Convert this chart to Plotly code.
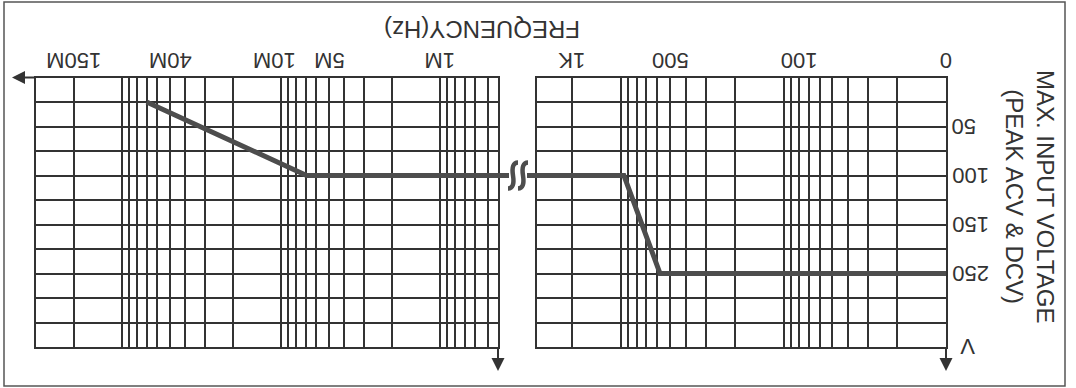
import numpy as np
import plotly.graph_objects as go

W, H = 1076, 388

# ---------------- data ----------------
# low-frequency panel (Hz)
freq_low = [10, 575, 960, 3400]
volt_low = [250, 250, 100, 100]
# high-frequency panel (Hz)
freq_high = [4.0e5, 6.9e6, 7.0e7]
volt_high = [100, 100, 25]

# voltage scale of the drawing (non-linear): value -> grid row
volt_scale_vals = [0, 50, 100, 150, 250]
volt_scale_rows = [0, 2, 4, 6, 8]
y_tick_vals = [50, 100, 150, 250]
y_tick_text = ["50", "100", "150", "250"]
y_unit = "V"

# frequency tick labels, at the places where the drawing puts them
low_tick_text = ["0", "100", "500", "1K"]
low_tick_vals = [10, 80, 500, 2000]
high_tick_text = ["1M", "5M", "10M", "40M", "150M"]
high_tick_vals = [1e6, 5e6, 1.1e7, 5e7, 2e8]

# log grid lines of each panel
low_grid = [k * 10 ** e for e in range(1, 4) for k in range(1, 10) if k * 10 ** e <= 2000]
high_grid = [k * 10 ** e for e in range(5, 9) for k in range(1, 10) if 5e5 <= k * 10 ** e <= 2e8]
rows = list(range(0, 12))

x_title = "FREQUENCY(Hz)"
y_title = "MAX. INPUT VOLTAGE<br>(PEAK ACV & DCV)"

# ---------------- layout helpers ----------------
def pxx(p):
    return p / W

def pxy(p):
    return 1 - p / H

def vrow(v):
    return np.interp(v, volt_scale_vals, volt_scale_rows)

GRID_TOP, GRID_BOT = 77.5, 347.0
L_LEFT, L_RIGHT = 36.0, 498.0
R_LEFT, R_RIGHT = 537.0, 946.0

INK = "#333333"
CURVE = "#4d4d4d"
FONT = "Liberation Sans, Arial, Helvetica, sans-serif"

def row_px(r):
    return GRID_TOP + r * (GRID_BOT - GRID_TOP) / 11.0

fig = go.Figure()
fig.add_trace(go.Scatter(x=freq_high, y=vrow(volt_high), mode="lines",
                         line=dict(color=CURVE, width=5), xaxis="x", yaxis="y",
                         showlegend=False, hoverinfo="skip"))
fig.add_trace(go.Scatter(x=freq_low, y=vrow(volt_low), mode="lines",
                         line=dict(color=CURVE, width=5), xaxis="x2", yaxis="y2",
                         showlegend=False, hoverinfo="skip"))

axis_common = dict(showgrid=True, gridcolor=INK, gridwidth=1.8, zeroline=False,
                   showline=True, linecolor=INK, linewidth=2, mirror=True,
                   ticks="", showticklabels=False)

# left panel: 159 px per decade, 1 MHz at x=440
l_hi = 6 + (440 - L_LEFT) / 159.0
l_lo = 6 - (L_RIGHT - 440) / 159.0
# right panel: 162.5 px per decade, 10 Hz at right edge
r_hi = 1 + (R_RIGHT - R_LEFT) / 162.5

fig.update_layout(
    width=W, height=H, margin=dict(l=0, r=0, t=0, b=0),
    paper_bgcolor="white", plot_bgcolor="white",
    xaxis=dict(type="log", domain=[pxx(L_LEFT), pxx(L_RIGHT)], range=[l_hi, l_lo],
               tickmode="array", tickvals=high_grid, anchor="y", **axis_common),
    xaxis2=dict(type="log", domain=[pxx(R_LEFT), pxx(R_RIGHT)], range=[r_hi, 1.0],
                tickmode="array", tickvals=low_grid, anchor="y2", **axis_common),
    yaxis=dict(domain=[pxy(GRID_BOT), pxy(GRID_TOP)], range=[11, 0], anchor="x",
               tickmode="array", tickvals=rows, **axis_common),
    yaxis2=dict(domain=[pxy(GRID_BOT), pxy(GRID_TOP)], range=[11, 0], anchor="x2",
                matches="y", tickmode="array", tickvals=rows, **axis_common),
)

annotations = []
tick_font = dict(family=FONT, size=22, color=INK)
LABEL_Y = pxy(61)
for v, t in zip(high_tick_vals, high_tick_text):
    annotations.append(dict(x=np.log10(v), xref="x", y=LABEL_Y, yref="paper", text=t,
                            textangle=180, showarrow=False, xanchor="center",
                            yanchor="middle", font=tick_font))
for v, t in zip(low_tick_vals, low_tick_text):
    annotations.append(dict(x=np.log10(v), xref="x2", y=LABEL_Y, yref="paper", text=t,
                            textangle=180, showarrow=False, xanchor="center",
                            yanchor="middle", font=tick_font))
for v, t in zip(y_tick_vals, y_tick_text):
    annotations.append(dict(x=pxx(950), xref="paper", y=vrow(v), yref="y2", text=t,
                            textangle=180, showarrow=False, xanchor="left",
                            yanchor="middle", font=tick_font))
annotations.append(dict(x=pxx(968), xref="paper", y=11, yref="y2", text=y_unit,
                        textangle=180, showarrow=False, xanchor="center",
                        yanchor="middle", font=tick_font))
# titles
annotations.append(dict(x=pxx(482), xref="paper", y=pxy(29), yref="paper", text=x_title,
                        textangle=180, showarrow=False, xanchor="center", yanchor="middle",
                        font=dict(family=FONT, size=24, color=INK)))
annotations.append(dict(x=pxx(1030), xref="paper", y=pxy(196), yref="paper", text=y_title,
                        textangle=90, showarrow=False, xanchor="center", yanchor="middle",
                        font=dict(family=FONT, size=24, color=INK)))
# axis arrows
arrow = dict(text="", showarrow=True, arrowhead=2, arrowsize=1.3, arrowwidth=2,
             arrowcolor=INK, standoff=0, startstandoff=0)
annotations.append(dict(x=pxx(12), y=pxy(GRID_TOP), xref="paper", yref="paper",
                        ax=L_LEFT - 12, ay=0, **arrow))
annotations.append(dict(x=pxx(L_RIGHT), y=pxy(371), xref="paper", yref="paper",
                        ax=0, ay=-(371 - GRID_BOT), **arrow))
annotations.append(dict(x=pxx(R_RIGHT), y=pxy(371), xref="paper", yref="paper",
                        ax=0, ay=-(371 - GRID_BOT), **arrow))
fig.update_layout(annotations=annotations)

# break between the two panels
shapes = []
cy_row = vrow(volt_low[-1])
shapes.append(dict(type="line", xref="paper", yref="y", x0=pxx(L_RIGHT), x1=pxx(509),
                   y0=cy_row, y1=cy_row, line=dict(color=CURVE, width=5)))
shapes.append(dict(type="line", xref="paper", yref="y", x0=pxx(527), x1=pxx(R_LEFT),
                   y0=cy_row, y1=cy_row, line=dict(color=CURVE, width=5)))
cy = row_px(cy_row)
for cx in (513.0, 523.0):
    pts = [(cx + 5, cy - 13), (cx - 2, cy - 13), (cx, cy), (cx + 2, cy + 13), (cx - 5, cy + 13)]
    p = [(pxx(a), pxy(b)) for a, b in pts]
    path = "M {:.5f},{:.5f} Q {:.5f},{:.5f} {:.5f},{:.5f} Q {:.5f},{:.5f} {:.5f},{:.5f}".format(
        *p[0], *p[1], *p[2], *p[3], *p[4])
    shapes.append(dict(type="path", xref="paper", yref="paper", path=path,
                       line=dict(color=CURVE, width=4.5)))
# outer frame
shapes.append(dict(type="rect", xref="paper", yref="paper", x0=pxx(4), x1=pxx(1065),
                   y0=pxy(386), y1=pxy(2), line=dict(color="#555555", width=1.5)))
fig.update_layout(shapes=shapes)

fig.write_html("out.html", config={"displayModeBar": False},
               post_script="document.body.style.margin='0px';document.body.style.overflow='hidden';")
